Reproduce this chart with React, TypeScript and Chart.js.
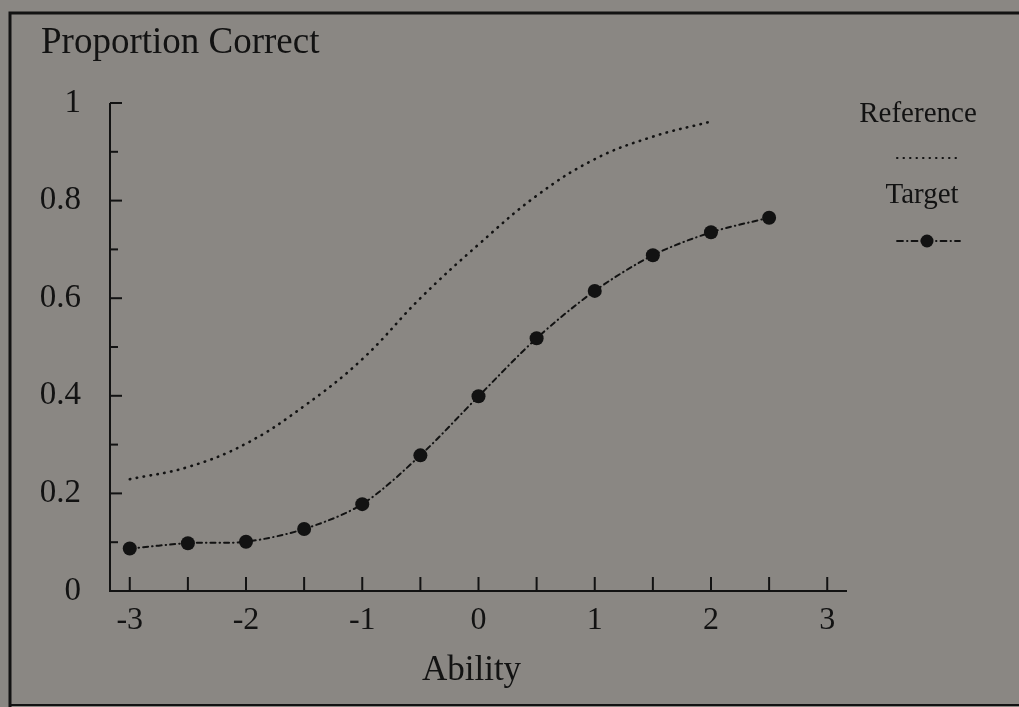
import React, { useEffect, useRef } from "react";
import { Chart, registerables } from "chart.js";

Chart.register(...registerables);

// ---- data ----
const referenceAbility = [-3, -2.5, -2, -1.5, -1, -0.5, 0, 0.5, 1, 1.5, 2];
const referenceValues = [0.229, 0.254, 0.302, 0.379, 0.475, 0.6, 0.71, 0.81, 0.885, 0.931, 0.962];

const targetAbility = [-3, -2.5, -2, -1.5, -1, -0.5, 0, 0.5, 1, 1.5, 2, 2.5];
const targetValues = [0.087, 0.098, 0.101, 0.127, 0.178, 0.278, 0.399, 0.518, 0.615, 0.688, 0.735, 0.765];

const xTickValues = [-3, -2, -1, 0, 1, 2, 3];
const xMinorTickValues = [-3, -2.5, -2, -1.5, -1, -0.5, 0, 0.5, 1, 1.5, 2, 2.5, 3];
const yTickValues = [0, 0.2, 0.4, 0.6, 0.8, 1];
const yMinorTickValues = [0.1, 0.3, 0.5, 0.7, 0.9];

const chartTitle = "Proportion Correct";
const xAxisTitle = "Ability";
const seriesNames = ["Reference", "Target"];

const INK = "#121212";
const BG = "#8a8783";
const SERIF = "'Liberation Serif', 'DejaVu Serif', serif";

const overlayPlugin = {
  id: "overlay",
  afterDraw(chart: any) {
    const ctx = chart.ctx as CanvasRenderingContext2D;
    const xs = chart.scales.x;
    const ys = chart.scales.y;
    const area = chart.chartArea;
    ctx.save();
    ctx.strokeStyle = INK;
    ctx.fillStyle = INK;
    ctx.setLineDash([]);

    // frame
    ctx.lineWidth = 3;
    ctx.beginPath();
    ctx.moveTo(10, 707);
    ctx.lineTo(10, 13);
    ctx.lineTo(1019, 13);
    ctx.stroke();
    ctx.lineWidth = 2;
    ctx.beginPath();
    ctx.moveTo(10, 705);
    ctx.lineTo(1019, 705);
    ctx.stroke();

    // axes
    const y0 = ys.getPixelForValue(0);
    const y1 = ys.getPixelForValue(1);
    ctx.lineWidth = 2;
    ctx.beginPath();
    ctx.moveTo(area.left, y1);
    ctx.lineTo(area.left, y0);
    ctx.lineTo(area.right, y0);
    ctx.stroke();

    // x ticks (inward)
    xMinorTickValues.forEach((v) => {
      const px = xs.getPixelForValue(v);
      ctx.beginPath();
      ctx.moveTo(px, y0);
      ctx.lineTo(px, y0 - 14);
      ctx.stroke();
    });
    // y ticks (inward)
    yTickValues.forEach((v) => {
      const py = ys.getPixelForValue(v);
      ctx.beginPath();
      ctx.moveTo(area.left, py);
      ctx.lineTo(area.left + 12, py);
      ctx.stroke();
    });
    yMinorTickValues.forEach((v) => {
      const py = ys.getPixelForValue(v);
      ctx.beginPath();
      ctx.moveTo(area.left, py);
      ctx.lineTo(area.left + 8, py);
      ctx.stroke();
    });

    // titles
    ctx.textBaseline = "alphabetic";
    ctx.font = `37px ${SERIF}`;
    ctx.textAlign = "left";
    ctx.fillText(chartTitle, 41, 53);
    ctx.font = `35px ${SERIF}`;
    ctx.textAlign = "center";
    ctx.fillText(xAxisTitle, xs.getPixelForValue(-0.06), 680);

    // legend
    ctx.font = `29px ${SERIF}`;
    ctx.textAlign = "center";
    ctx.fillText(seriesNames[0], 918, 122);
    ctx.fillText(seriesNames[1], 922, 203);

    ctx.lineCap = "round";
    ctx.lineWidth = 2;
    ctx.setLineDash([0.5, 6]);
    ctx.beginPath();
    ctx.moveTo(897, 158);
    ctx.lineTo(958, 158);
    ctx.stroke();

    ctx.lineWidth = 1.8;
    ctx.setLineDash([6, 4, 0.5, 4]);
    ctx.beginPath();
    ctx.moveTo(897, 241);
    ctx.lineTo(960, 241);
    ctx.stroke();
    ctx.setLineDash([]);
    ctx.beginPath();
    ctx.arc(927, 241, 6.5, 0, Math.PI * 2);
    ctx.fill();

    ctx.restore();
  },
};

export default function App() {
  const canvasRef = useRef<HTMLCanvasElement | null>(null);

  useEffect(() => {
    if (!canvasRef.current) return;
    const chart = new Chart(canvasRef.current, {
      type: "line",
      data: {
        datasets: [
          {
            label: seriesNames[0],
            data: referenceAbility.map((x, i) => ({ x, y: referenceValues[i] })),
            borderColor: INK,
            borderWidth: 2.6,
            borderDash: [0.5, 6.5],
            borderCapStyle: "round",
            pointRadius: 0,
            tension: 0.4,
            fill: false,
          },
          {
            label: seriesNames[1],
            data: targetAbility.map((x, i) => ({ x, y: targetValues[i] })),
            borderColor: INK,
            borderWidth: 2,
            borderDash: [5, 4, 0.5, 4],
            borderCapStyle: "round",
            pointRadius: 7,
            pointBackgroundColor: INK,
            pointBorderColor: INK,
            pointBorderWidth: 0,
            tension: 0.3,
            fill: false,
          },
        ],
      },
      options: {
        animation: false,
        responsive: false,
        devicePixelRatio: 1,
        layout: { padding: { left: 0, top: 103, right: 172, bottom: 0 } },
        plugins: {
          legend: { display: false },
          title: { display: false },
          tooltip: { enabled: false },
        },
        scales: {
          x: {
            type: "linear",
            min: -3.17,
            max: 3.17,
            grid: { display: false },
            border: { display: false },
            afterBuildTicks: (s: any) => {
              s.ticks = xTickValues.map((v) => ({ value: v }));
            },
            afterFit: (s: any) => {
              s.height = 116;
            },
            ticks: {
              color: INK,
              padding: 2,
              maxRotation: 0,
              autoSkip: false,
              font: { family: SERIF, size: 32 },
              callback: (v: any) => String(v),
            },
          },
          y: {
            type: "linear",
            min: 0,
            max: 1,
            grid: { display: false },
            border: { display: false },
            afterBuildTicks: (s: any) => {
              s.ticks = yTickValues.map((v) => ({ value: v }));
            },
            afterFit: (s: any) => {
              s.width = 110;
            },
            ticks: {
              color: INK,
              padding: 21,
              autoSkip: false,
              font: { family: SERIF, size: 33 },
              callback: (v: any) => String(Math.round(v * 10) / 10),
            },
          },
        },
      },
      plugins: [overlayPlugin],
    } as any);
    return () => chart.destroy();
  }, []);

  return (
    <div
      style={{
        position: "absolute",
        left: 0,
        top: 0,
        width: 1019,
        height: 707,
        background: BG,
      }}
    >
      <canvas ref={canvasRef} width={1019} height={707} style={{ display: "block" }} />
    </div>
  );
}
